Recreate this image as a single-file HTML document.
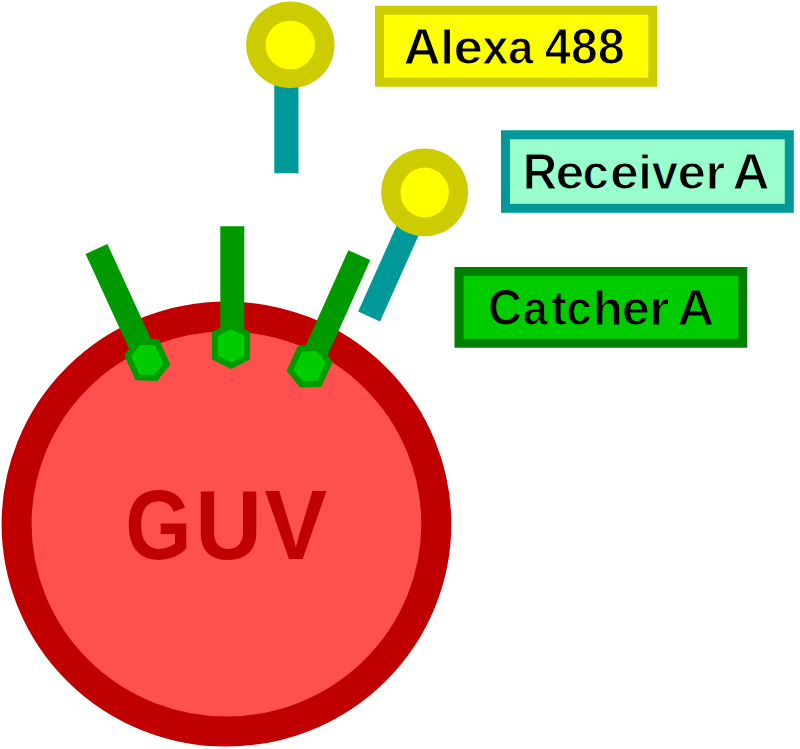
<!DOCTYPE html>
<html><head><meta charset="utf-8"><style>
html,body{margin:0;padding:0;background:#fff;width:800px;height:749px;overflow:hidden}
svg{display:block}
text{font-family:"Liberation Sans",sans-serif;font-weight:bold}
</style></head><body>
<svg width="800" height="749" viewBox="0 0 800 749">
<ellipse cx="226.45" cy="524" rx="209.85" ry="207.5" fill="#FF5050" stroke="#C00000" stroke-width="30"/>
<text transform="translate(128.75,559.40) scale(0.8624,1.0000)" x="-4.05" y="0" font-size="98.8" fill="#C00000">G</text>
<text transform="translate(200.80,559.40) scale(0.9346,1.0000)" x="-5.93" y="0" font-size="98.8" fill="#C00000">U</text>
<text transform="translate(265.20,559.40) scale(0.9497,1.0000)" x="-0.68" y="0" font-size="98.8" fill="#C00000">V</text>
<line x1="96.45" y1="248.9" x2="147.25" y2="359.85" stroke="#009900" stroke-width="24"/>
<line x1="232.3" y1="226.25" x2="232.3" y2="345.8" stroke="#009900" stroke-width="24"/>
<line x1="359.3" y1="255.15" x2="309.65" y2="366.25" stroke="#009900" stroke-width="24"/>
<polygon points="138.94,341.71 156.94,342.27 166.89,364.00 155.56,377.99 137.56,377.43 127.61,355.70" fill="#00CC00" stroke="#009900" stroke-width="6"/>
<polygon points="231.00,325.85 247.12,333.85 247.12,357.75 231.00,365.75 214.88,357.75 214.88,333.85" fill="#00CC00" stroke="#009900" stroke-width="6"/>
<polygon points="317.79,348.04 329.25,361.92 319.50,383.74 301.51,384.46 290.05,370.58 299.80,348.76" fill="#00CC00" stroke="#009900" stroke-width="6"/>
<line x1="286.4" y1="173.2" x2="286.4" y2="44.7" stroke="#009999" stroke-width="24.2"/>
<ellipse cx="290.3" cy="44.9" rx="44.3" ry="43.4" fill="#CCCC00"/><ellipse cx="290.25" cy="44.95" rx="24.8" ry="24.3" fill="#FFFF00"/>
<line x1="369.1" y1="316.5" x2="424.6" y2="192.7" stroke="#009999" stroke-width="24"/>
<ellipse cx="424.6" cy="192.4" rx="43.5" ry="43.9" fill="#CCCC00"/><ellipse cx="424.7" cy="192.55" rx="24.2" ry="24.95" fill="#FFFF00"/>
<rect x="379.5" y="10.25" width="273.25" height="72" fill="#FFFF00" stroke="#CCCC00" stroke-width="9"/>
<rect x="505.5" y="134.75" width="283.8" height="73.55" fill="#99FFCC" stroke="#009999" stroke-width="9"/>
<rect x="459" y="271.5" width="283.75" height="71.75" fill="#00CC00" stroke="#008000" stroke-width="9"/>
<text transform="translate(404.70,64.30) scale(1.0461,1.0000)" x="-1.23" y="0" font-size="49.3" fill="#000" stroke="#FFFF00" stroke-width="1.20">A</text>
<text transform="translate(443.80,64.30) scale(1.0053,0.9650)" x="-3.44" y="0" font-size="49.3" fill="#000" stroke="#FFFF00" stroke-width="1.20">l</text>
<text transform="translate(455.65,64.30) scale(1.0732,0.9650)" x="-1.93" y="0" font-size="49.3" fill="#000" stroke="#FFFF00" stroke-width="1.20">e</text>
<text transform="translate(482.50,64.30) scale(0.9581,0.9650)" x="-0.34" y="0" font-size="49.3" fill="#000" stroke="#FFFF00" stroke-width="1.20">x</text>
<text transform="translate(509.40,64.30) scale(0.9244,0.9650)" x="-1.44" y="0" font-size="49.3" fill="#000" stroke="#FFFF00" stroke-width="1.20">a</text>
<text transform="translate(545.40,64.30) scale(0.9543,1.0000)" x="-0.75" y="0" font-size="49.3" fill="#000" stroke="#FFFF00" stroke-width="1.20">4</text>
<text transform="translate(572.50,64.30) scale(0.9738,1.0000)" x="-1.56" y="0" font-size="49.3" fill="#000" stroke="#FFFF00" stroke-width="1.20">8</text>
<text transform="translate(599.40,64.30) scale(0.9841,1.0000)" x="-1.56" y="0" font-size="49.3" fill="#000" stroke="#FFFF00" stroke-width="1.20">8</text>
<text transform="translate(525.90,189.20) scale(0.9682,1.0000)" x="-3.30" y="0" font-size="49.3" fill="#000" stroke="#99FFCC" stroke-width="1.20">R</text>
<text transform="translate(557.50,189.20) scale(1.0501,0.9650)" x="-1.93" y="0" font-size="49.3" fill="#000" stroke="#99FFCC" stroke-width="1.20">e</text>
<text transform="translate(584.40,189.20) scale(0.9606,0.9650)" x="-1.93" y="0" font-size="49.3" fill="#000" stroke="#99FFCC" stroke-width="1.20">c</text>
<text transform="translate(611.90,189.20) scale(1.0480,0.9650)" x="-1.93" y="0" font-size="49.3" fill="#000" stroke="#99FFCC" stroke-width="1.20">e</text>
<text transform="translate(641.65,189.20) scale(0.9905,0.9650)" x="-3.44" y="0" font-size="49.3" fill="#000" stroke="#99FFCC" stroke-width="1.20">i</text>
<text transform="translate(651.65,189.20) scale(0.9700,0.9650)" x="-0.19" y="0" font-size="49.3" fill="#000" stroke="#99FFCC" stroke-width="1.20">v</text>
<text transform="translate(679.40,189.20) scale(1.0375,0.9650)" x="-1.93" y="0" font-size="49.3" fill="#000" stroke="#99FFCC" stroke-width="1.20">e</text>
<text transform="translate(708.80,189.20) scale(1.0270,0.9650)" x="-3.25" y="0" font-size="49.3" fill="#000" stroke="#99FFCC" stroke-width="1.20">r</text>
<text transform="translate(733.90,189.20) scale(1.0431,1.0000)" x="-1.23" y="0" font-size="49.3" fill="#000" stroke="#99FFCC" stroke-width="1.20">A</text>
<text transform="translate(490.00,325.10) scale(0.9571,1.0000)" x="-2.02" y="0" font-size="49.3" fill="#000" stroke="#00CC00" stroke-width="1.20">C</text>
<text transform="translate(524.40,325.10) scale(0.9016,0.9650)" x="-1.44" y="0" font-size="49.3" fill="#000" stroke="#00CC00" stroke-width="1.20">a</text>
<text transform="translate(551.90,325.10) scale(0.9399,0.9650)" x="-0.60" y="0" font-size="49.3" fill="#000" stroke="#00CC00" stroke-width="1.20">t</text>
<text transform="translate(568.15,325.10) scale(0.9335,0.9650)" x="-1.93" y="0" font-size="49.3" fill="#000" stroke="#00CC00" stroke-width="1.20">c</text>
<text transform="translate(596.30,325.10) scale(1.0036,0.9650)" x="-3.44" y="0" font-size="49.3" fill="#000" stroke="#00CC00" stroke-width="1.20">h</text>
<text transform="translate(623.80,325.10) scale(1.0207,0.9650)" x="-1.93" y="0" font-size="49.3" fill="#000" stroke="#00CC00" stroke-width="1.20">e</text>
<text transform="translate(652.50,325.10) scale(1.0665,0.9650)" x="-3.25" y="0" font-size="49.3" fill="#000" stroke="#00CC00" stroke-width="1.20">r</text>
<text transform="translate(678.40,325.10) scale(1.0401,1.0000)" x="-1.23" y="0" font-size="49.3" fill="#000" stroke="#00CC00" stroke-width="1.20">A</text>
</svg>
</body></html>
